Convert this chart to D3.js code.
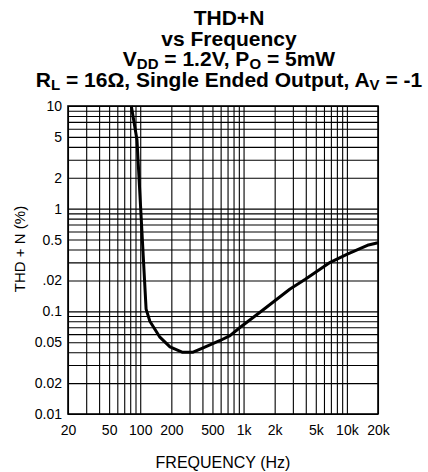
<!DOCTYPE html>
<html>
<head>
<meta charset="utf-8">
<script src="https://cdn.jsdelivr.net/npm/d3@7"></script>
<style>
  body { margin: 0; background: #fff; }
  svg text { font-family: "Liberation Sans", Arial, sans-serif; fill: #000; }
</style>
</head>
<body>
<svg id="chart" width="428" height="472"></svg>
<script>
// curve
const freqs = [82, 93, 114, 124, 155, 194, 254, 325, 406, 594, 740, 929, 1442, 2818, 3960, 6900, 10100, 15800, 20000];
const thdn  = [10, 4.7, 0.105, 0.08, 0.056, 0.045, 0.040, 0.040, 0.044, 0.052, 0.058, 0.07, 0.098, 0.165, 0.205, 0.30, 0.36, 0.44, 0.465];

// axis labels (".02" is how the original prints the 0.2 line)
const xTickVals = [20, 50, 100, 200, 500, 1000, 2000, 5000, 10000, 20000];
const xTickText = ["20", "50", "100", "200", "500", "1k", "2k", "5k", "10k", "20k"];
const yTickVals = [10, 5, 2, 1, 0.5, 0.2, 0.1, 0.05, 0.02, 0.01];
const yTickText = ["10", "5", "2", "1", "0.5", ".02", "0.1", "0.05", "0.02", "0.01"];

const svg = d3.select("#chart");
const W = 428, H = 472;
const margin = {top: 106, right: 50, bottom: 58, left: 68};
const w = W - margin.left - margin.right;
const h = H - margin.top - margin.bottom;

const x = d3.scaleLog().domain([20, 20000]).range([0, w]);
const y = d3.scaleLog().domain([0.01, 10]).range([h, 0]);

// log grid: 1..9 of each decade
function logGrid(lo, hi) {
  let out = [];
  for (let dec = lo; dec < hi * 1.0001; dec *= 10) {
    for (let k = 1; k <= 9; k++) {
      let v = dec * k;
      if (v >= lo * 0.9999 && v <= hi * 1.0001) out.push(v);
    }
  }
  return out;
}
const xGrid = logGrid(10, 20000).filter(v => v >= 20);
const yGrid = logGrid(0.01, 10);

const g = svg.append("g").attr("transform", `translate(${margin.left},${margin.top})`);

// grid lines
g.append("g").attr("class", "xgrid")
  .attr("transform", `translate(0,${h})`)
  .call(d3.axisBottom(x).tickValues(xGrid).tickSize(-h).tickFormat(""))
  .call(s => s.select(".domain").remove())
  .selectAll("line").attr("stroke", "#000").attr("stroke-width", 1.1);

g.append("g").attr("class", "ygrid")
  .call(d3.axisLeft(y).tickValues(yGrid).tickSize(-w).tickFormat(""))
  .call(s => s.select(".domain").remove())
  .selectAll("line").attr("stroke", "#000").attr("stroke-width", 1.1);

// frame
g.append("rect")
  .attr("width", w).attr("height", h)
  .attr("fill", "none").attr("stroke", "#000").attr("stroke-width", 1.6);

// tick labels
g.append("g")
  .attr("transform", `translate(0,${h})`)
  .call(d3.axisBottom(x).tickValues(xTickVals).tickSize(0).tickPadding(11)
        .tickFormat((d, i) => xTickText[i]))
  .call(s => s.select(".domain").remove())
  .selectAll("text").attr("font-size", 14).attr("font-family", null);

g.append("g")
  .call(d3.axisLeft(y).tickValues(yTickVals).tickSize(0).tickPadding(6)
        .tickFormat((d, i) => yTickText[i]))
  .call(s => s.select(".domain").remove())
  .selectAll("text").attr("font-size", 14).attr("font-family", null);

// curve
const line = d3.line()
  .x(d => x(d[0]))
  .y(d => y(d[1]));

g.append("path")
  .datum(d3.zip(freqs, thdn))
  .attr("fill", "none")
  .attr("stroke", "#000")
  .attr("stroke-width", 3)
  .attr("stroke-linejoin", "round")
  .attr("d", line);

// axis titles
svg.append("text")
  .attr("x", margin.left + w / 2).attr("y", 468)
  .attr("text-anchor", "middle").attr("font-size", 16)
  .text("FREQUENCY (Hz)");

svg.append("text")
  .attr("transform", "translate(25,249) rotate(-90)")
  .attr("text-anchor", "middle").attr("font-size", 15)
  .text("THD + N (%)");

// title
const cx = 229;
const title = svg.append("g")
  .attr("font-weight", "bold").attr("font-size", 21).attr("text-anchor", "middle");

title.append("text").attr("x", cx).attr("y", 25).text("THD+N");
title.append("text").attr("x", cx).attr("y", 46).text("vs Frequency");

function subLine(yy, parts) {
  let t = title.append("text").attr("x", cx).attr("y", yy);
  parts.forEach(p => {
    if (p.sub) {
      t.append("tspan").attr("dy", 3).attr("font-size", 15).text(p.sub);
    } else {
      t.append("tspan").attr("dy", p.back ? -3 : 0).text(p.txt);
    }
  });
}
subLine(66, [{txt: "V"}, {sub: "DD"}, {txt: " = 1.2V, P", back: true}, {sub: "O"}, {txt: " = 5mW", back: true}]);
subLine(87, [{txt: "R"}, {sub: "L"}, {txt: " = 16Ω, Single Ended Output, A", back: true}, {sub: "V"}, {txt: " = -1", back: true}]);
</script>
</body>
</html>
